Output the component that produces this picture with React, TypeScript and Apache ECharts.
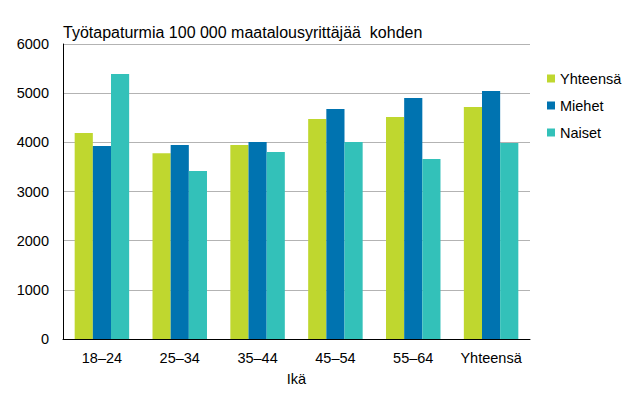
import React, { useEffect, useRef } from "react";
import * as echarts from "echarts";

const categories = ["18–24", "25–34", "35–44", "45–54", "55–64", "Yhteensä"];
const seriesNames = ["Yhteensä", "Miehet", "Naiset"];
const yhteensa = [4190, 3780, 3945, 4475, 4515, 4720];
const miehet = [3925, 3945, 4005, 4680, 4900, 5045];
const naiset = [5390, 3415, 3805, 4005, 3660, 3985];
const colors = ["#bfd72f", "#0073b0", "#33c1b9"];

export default function App() {
  const ref = useRef<HTMLDivElement>(null);
  useEffect(() => {
    const chart = echarts.init(ref.current!, null, { renderer: "svg" });
    const font = "Liberation Sans, Arial, sans-serif";
    const data = [yhteensa, miehet, naiset];
    chart.setOption({
      animation: false,
      textStyle: { fontFamily: font },
      title: {
        text: "Työtapaturmia 100 000 maatalousyrittäjää  kohden",
        left: 58,
        top: 19,
        textStyle: { fontFamily: font, fontSize: 16, fontWeight: "normal", color: "#000" },
      },
      legend: {
        orient: "vertical",
        left: 542,
        top: 66,
        itemWidth: 8,
        itemHeight: 8,
        itemGap: 12,
        icon: "rect",
        textStyle: { fontFamily: font, fontSize: 14.5, color: "#000" },
        data: seriesNames,
      },
      grid: { left: 63, top: 44, right: 103, bottom: 58, containLabel: false },
      xAxis: {
        type: "category",
        data: categories,
        name: "Ikä",
        nameLocation: "middle",
        nameGap: 32,
        nameTextStyle: { fontFamily: font, fontSize: 14.5, color: "#000" },
        axisLine: { lineStyle: { color: "#000", width: 1 } },
        axisTick: { show: false },
        axisLabel: { fontFamily: font, fontSize: 14.5, color: "#000", margin: 11, interval: 0 },
      },
      yAxis: {
        type: "value",
        min: 0,
        max: 6000,
        interval: 1000,
        axisLine: { show: true, lineStyle: { color: "#000", width: 1 } },
        axisTick: { show: false },
        axisLabel: {
          fontFamily: font,
          fontSize: 14.5,
          color: "#000",
          margin: 14,
          formatter: (v: number) => String(v),
        },
        splitLine: { lineStyle: { color: "#b3b3b3", width: 1 } },
      },
      series: seriesNames.map((name, i) => ({
        name,
        type: "bar",
        data: data[i],
        barGap: "0%",
        barCategoryGap: "30%",
        itemStyle: { color: colors[i] },
      })),
    });
    return () => chart.dispose();
  }, []);
  return <div ref={ref} style={{ width: 633, height: 397, margin: -8 }} />;
}
